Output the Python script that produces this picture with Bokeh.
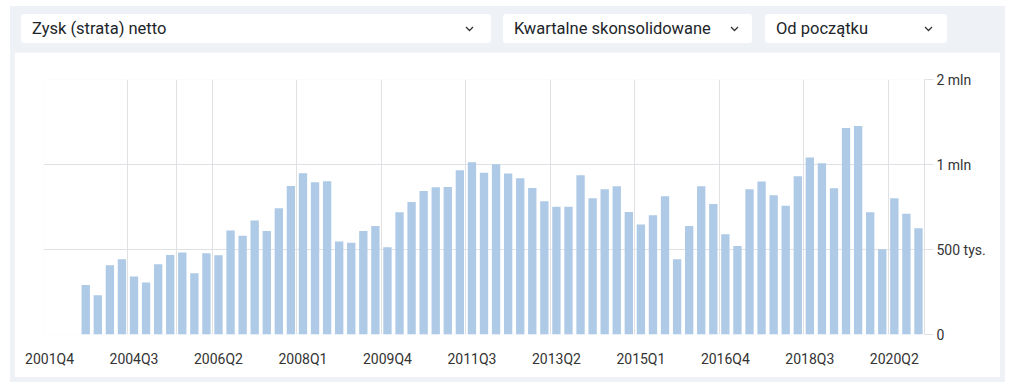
from bokeh.plotting import figure
from bokeh.models import Range1d, FixedTicker, Div, ColumnDataSource
from bokeh.layouts import column
from bokeh.embed import file_html
from bokeh.resources import INLINE

# ---------------- data ----------------
selector_labels = ["Zysk (strata) netto", "Kwartalne skonsolidowane", "Od początku"]

quarters = [
    "2001Q4", "2002Q4", "2003Q2", "2003Q3", "2003Q4", "2004Q1", "2004Q2",
    "2004Q3", "2004Q4",
    "2005Q1", "2005Q2", "2005Q3", "2005Q4",
    "2006Q1", "2006Q2", "2006Q3", "2006Q4",
    "2007Q1", "2007Q2", "2007Q3", "2007Q4",
    "2008Q1", "2008Q2", "2008Q3", "2008Q4",
    "2009Q1", "2009Q2", "2009Q3", "2009Q4",
    "2010Q1", "2010Q2", "2010Q3", "2010Q4",
    "2011Q1", "2011Q2", "2011Q3", "2011Q4",
    "2012Q1", "2012Q2", "2012Q3", "2012Q4",
    "2013Q1", "2013Q2", "2013Q3", "2013Q4",
    "2014Q1", "2014Q2", "2014Q3", "2014Q4",
    "2015Q1", "2015Q2", "2015Q3", "2015Q4",
    "2016Q1", "2016Q2", "2016Q3", "2016Q4",
    "2017Q1", "2017Q2", "2017Q3", "2017Q4",
    "2018Q1", "2018Q2", "2018Q3", "2018Q4",
    "2019Q1", "2019Q2", "2019Q3", "2019Q4",
    "2020Q1", "2020Q2", "2020Q3", "2020Q4",
]

# net profit, thousands (None = no data)
net_profit_k = [
    None, None, None,
    374, 344, 440, 462, 401, 382, 443, 478, 488, 412, 485, 477,
    584, 559, 633, 582, 700, 840, 932, 866, 873, 534, 528, 582, 605, 509,
    678, 737, 806, 831, 833, 955, 1019, 934, 1003, 929, 894, 826, 741, 708, 708,
    916, 760, 818, 838, 679, 613, 661, 772, 462, 605, 838, 725, 566, 515,
    818, 871, 779, 714, 909, 1059, 1011, 824, 1348, 1370, 678, 501, 760, 669, 595,
]

y_ticks = [250000, 500000, 1000000, 2000000]
y_tick_labels = ["0", "500 tys.", "1 mln", "2 mln"]
label_every = 7

# ---------------- styling ----------------
GRAY = "#eef1f5"
BAR = "#aecae6"
GRID = "#dfe1e4"
TEXT = "#333333"
FONT = "Roboto"

xs = [i for i, v in enumerate(net_profit_k) if v is not None]
tops = [v * 1000 for v in net_profit_k if v is not None]
src = ColumnDataSource(dict(x=xs, top=tops, q=[quarters[i] for i in xs]))

n = len(quarters)
p = figure(
    width=986, height=325,
    x_range=Range1d(-0.5, n - 0.5),
    y_range=Range1d(y_ticks[0], y_ticks[-1]),
    y_axis_type="log", y_axis_location="right",
    output_backend="svg", toolbar_location=None,
    min_border_left=29, min_border_right=76, min_border_top=27, min_border_bottom=43,
    outline_line_color=None, border_fill_color="white", background_fill_color="white",
    margin=(0, 0, 0, 0),
)

p.vbar(x="x", top="top", bottom=y_ticks[0], width=0.69, source=src,
       fill_color=BAR, line_color=None)

# x axis
label_ticks = list(range(0, n, label_every))
p.xaxis.ticker = FixedTicker(ticks=label_ticks)
p.xaxis.major_label_overrides = {t: quarters[t] for t in label_ticks}
p.xaxis.axis_line_color = None
p.xaxis.major_tick_line_color = None
p.xaxis.minor_tick_line_color = None
p.xaxis.major_label_standoff = 10
p.xaxis.major_label_text_font = FONT
p.xaxis.major_label_text_font_size = "14px"
p.xaxis.major_label_text_color = TEXT

grid_ticks = sorted([t - 0.5 for t in label_ticks if t > 0] + [10.5])
p.xgrid.ticker = FixedTicker(ticks=grid_ticks)
p.xgrid.grid_line_color = GRID

# y axis
p.yaxis.ticker = FixedTicker(ticks=y_ticks)
p.yaxis.major_label_overrides = dict(zip(y_ticks, y_tick_labels))
p.yaxis.axis_line_color = GRID
p.yaxis.major_tick_line_color = GRID
p.yaxis.major_tick_out = 9
p.yaxis.major_tick_in = 0
p.yaxis.minor_tick_line_color = None
p.yaxis.major_label_standoff = 3
p.yaxis.major_label_text_font = FONT
p.yaxis.major_label_text_font_size = "14px"
p.yaxis.major_label_text_color = TEXT
p.ygrid.ticker = FixedTicker(ticks=y_ticks)
p.ygrid.grid_line_color = GRID

# selector row
chev = ('<svg style="position:absolute;right:{r}px;top:12px" width="9" height="6">'
        '<polyline points="1,1 4.5,4.5 8,1" fill="none" stroke="#333" stroke-width="1.3"/></svg>')
boxes = [(7, 470, 17), (489, 249, 13), (751, 182, 14)]
inner = ""
for (left, w, r), lab in zip(boxes, selector_labels):
    inner += (f'<div style="position:absolute;left:{left}px;top:6px;width:{w}px;height:29px;'
              f'background:#ffffff;border-radius:3px;">'
              f'<span style="position:absolute;left:11px;top:5px;white-space:nowrap;">{lab}</span>'
              + chev.format(r=r) + '</div>')
html = (f'<div style="position:relative;width:986px;height:44px;font-family:Roboto;'
        f'font-size:16.5px;color:#212529;line-height:19px;">{inner}</div>')
div = Div(text=html, width=986, height=44, margin=(0, 0, 0, 0))

layout = column(div, p, styles={"background-color": GRAY, "padding": "2px 5px 5px 4px"},
                margin=(6, 0, 0, 10))

open("out.html", "w").write(file_html(layout, INLINE))
